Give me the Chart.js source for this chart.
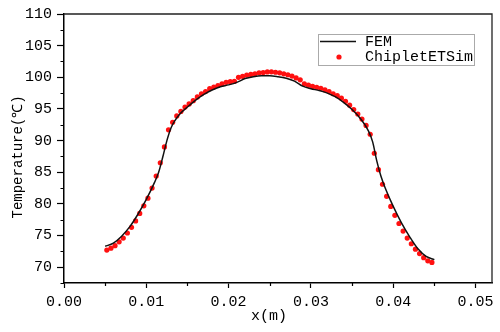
<!DOCTYPE html>
<html lang="en">
<head>
  <meta charset="UTF-8" />
  <title>FEM vs ChipletETSim</title>
  <script src="https://cdn.jsdelivr.net/npm/chart.js"></script>
  <style>
    html, body { margin: 0; padding: 0; background: #fff; }
    #wrap { width: 500px; height: 332px; }
  </style>
</head>
<body>
  <div id="wrap"><canvas id="chart" width="500" height="332"></canvas></div>

  <script>
    // FEM reference curve
    const femX = [0.005, 0.006, 0.007, 0.008, 0.009, 0.010, 0.011, 0.0115, 0.012, 0.0125,
      0.013, 0.0135, 0.014, 0.015, 0.016, 0.017, 0.018, 0.019, 0.020, 0.021,
      0.022, 0.023, 0.024, 0.025, 0.026, 0.027, 0.028, 0.029, 0.030, 0.031,
      0.032, 0.033, 0.034, 0.035, 0.036, 0.037, 0.0375, 0.038, 0.0385, 0.039,
      0.040, 0.041, 0.042, 0.043, 0.044, 0.045];
    const femY = [73.3, 73.8, 74.9, 76.4, 78.4, 80.7, 83.4, 85.0, 87.4, 90.0,
      92.0, 93.2, 94.1, 95.3, 96.4, 97.3, 98.0, 98.5, 98.8, 99.2,
      99.8, 100.1, 100.25, 100.25, 100.1, 99.85, 99.4, 98.6, 98.2, 97.9,
      97.5, 96.9, 96.0, 94.9, 93.5, 91.5, 89.8, 86.8, 84.4, 82.6,
      79.6, 77.0, 74.8, 72.9, 71.7, 71.2];

    // ChipletETSim points
    const simX = [0.0052, 0.0057, 0.0062, 0.0067, 0.0072, 0.0077, 0.0082, 0.0087, 0.0092, 0.0097,
      0.0102, 0.0107, 0.0112, 0.0117, 0.0122, 0.0127, 0.0132, 0.0137, 0.0142, 0.0147,
      0.0152, 0.0157, 0.0162, 0.0167, 0.0172, 0.0177, 0.0182, 0.0187, 0.0192, 0.0197,
      0.0202, 0.0207, 0.0212, 0.0217, 0.0222, 0.0227, 0.0232, 0.0237, 0.0242, 0.0247,
      0.0252, 0.0257, 0.0262, 0.0267, 0.0272, 0.0277, 0.0282, 0.0287, 0.0292, 0.0297,
      0.0302, 0.0307, 0.0312, 0.0317, 0.0322, 0.0327, 0.0332, 0.0337, 0.0342, 0.0347,
      0.0352, 0.0357, 0.0362, 0.0367, 0.0372, 0.0377, 0.0382, 0.0387, 0.0392, 0.0397,
      0.0402, 0.0407, 0.0412, 0.0417, 0.0422, 0.0427, 0.0432, 0.0437, 0.0442, 0.0447];
    const simY = [72.7, 73.0, 73.4, 74.0, 74.6, 75.4, 76.3, 77.3, 78.5, 79.7,
      80.9, 82.5, 84.4, 86.5, 89.0, 91.7, 92.9, 93.9, 94.6, 95.3,
      95.8, 96.3, 96.9, 97.4, 97.75, 98.2, 98.45, 98.7, 98.95, 99.2,
      99.3, 99.35, 100.0, 100.15, 100.35, 100.45, 100.55, 100.7, 100.76, 100.85,
      100.87, 100.8, 100.7, 100.55, 100.4, 100.2, 99.9, 99.6, 98.95, 98.75,
      98.55, 98.4, 98.25, 98.0, 97.75, 97.4, 97.1, 96.7, 96.2, 95.6,
      94.9, 94.2, 93.4, 92.4, 91.0, 88.0, 85.4, 83.1, 81.2, 79.6,
      78.2, 76.9, 75.7, 74.6, 73.7, 72.85, 72.15, 71.5, 71.0, 70.75];

    const xTicks = [0, 0.01, 0.02, 0.03, 0.04, 0.05];
    const xMinor = [0.005, 0.015, 0.025, 0.035, 0.045];
    const yTicks = [70, 75, 80, 85, 90, 95, 100, 105, 110];
    const yMinor = [67.5, 72.5, 77.5, 82.5, 87.5, 92.5, 97.5, 102.5, 107.5];

    Chart.defaults.font.family = "'Liberation Mono', monospace";
    Chart.defaults.font.size = 15;
    Chart.defaults.color = "#000";

    // frame, minor ticks and the boxed legend
    const decorations = {
      id: "decorations",
      afterDraw(chart) {
        const ctx = chart.ctx;
        const a = chart.chartArea;
        const xs = chart.scales.x, ys = chart.scales.y;
        ctx.save();
        ctx.strokeStyle = "#222";
        ctx.lineWidth = 1.3;
        ctx.beginPath();
        ctx.moveTo(a.left, a.top);
        ctx.lineTo(a.right, a.top);
        ctx.lineTo(a.right, a.bottom);
        ctx.stroke();

        ctx.strokeStyle = "#000";
        ctx.lineWidth = 1.2;
        ctx.beginPath();
        xMinor.forEach(v => {
          const px = Math.round(xs.getPixelForValue(v)) + 0.5;
          ctx.moveTo(px, a.bottom);
          ctx.lineTo(px, a.bottom + 3);
        });
        yMinor.forEach(v => {
          const py = Math.round(ys.getPixelForValue(v)) + 0.5;
          ctx.moveTo(a.left, py);
          ctx.lineTo(a.left - 3.5, py);
        });
        ctx.stroke();

        // legend
        const ds = chart.data.datasets;
        ctx.strokeStyle = "#aaa";
        ctx.lineWidth = 1;
        ctx.strokeRect(318.5, 34.5, 156, 31);
        ctx.strokeStyle = ds[0].borderColor;
        ctx.lineWidth = 1.6;
        ctx.beginPath();
        ctx.moveTo(320, 41.5);
        ctx.lineTo(356, 41.5);
        ctx.stroke();
        ctx.fillStyle = ds[1].backgroundColor;
        ctx.beginPath();
        ctx.arc(339, 57, 2.6, 0, Math.PI * 2);
        ctx.fill();
        ctx.fillStyle = "#000";
        ctx.font = "15px 'Liberation Mono', monospace";
        ctx.textBaseline = "middle";
        ctx.fillText(ds[0].label, 365, 42);
        ctx.fillText(ds[1].label, 365, 57);
        ctx.restore();
      }
    };

    const axisGrid = len => ({
      display: true,
      drawOnChartArea: false,
      drawTicks: true,
      tickLength: len,
      tickColor: "#000",
      tickWidth: 1.2
    });

    new Chart(document.getElementById("chart"), {
      type: "scatter",
      data: {
        datasets: [
          {
            label: "FEM",
            data: femX.map((x, i) => ({ x: x, y: femY[i] })),
            showLine: true,
            borderColor: "#111",
            borderWidth: 1.5,
            pointRadius: 0,
            cubicInterpolationMode: "monotone"
          },
          {
            label: "ChipletETSim",
            data: simX.map((x, i) => ({ x: x, y: simY[i] })),
            showLine: false,
            backgroundColor: "#ff1010",
            borderWidth: 0,
            pointRadius: 2.6
          }
        ]
      },
      options: {
        responsive: false,
        animation: false,
        layout: { padding: { top: 14, right: 8, left: 0, bottom: 0 } },
        plugins: { legend: { display: false }, tooltip: { enabled: false } },
        scales: {
          x: {
            type: "linear",
            min: 0,
            max: 0.052,
            afterBuildTicks: s => { s.ticks = xTicks.map(v => ({ value: v })); },
            afterFit: s => { s.height = 49; },
            ticks: { padding: 5, maxRotation: 0, callback: v => v.toFixed(2) },
            grid: axisGrid(5),
            border: { display: true, color: "#000", width: 1.5 },
            title: { display: true, text: "x(m)  ", padding: { top: 0, bottom: 7 } }
          },
          y: {
            min: 67.5,
            max: 110,
            afterBuildTicks: s => { s.ticks = yTicks.map(v => ({ value: v })); },
            afterFit: s => { s.width = 64; },
            ticks: { padding: 5, callback: v => String(v) },
            grid: axisGrid(7),
            border: { display: true, color: "#000", width: 1.5 },
            title: { display: true, text: "Temperature(℃)  ", font: { size: 14 }, padding: { top: 10, bottom: 0 } }
          }
        }
      },
      plugins: [decorations]
    });
  </script>
</body>
</html>
